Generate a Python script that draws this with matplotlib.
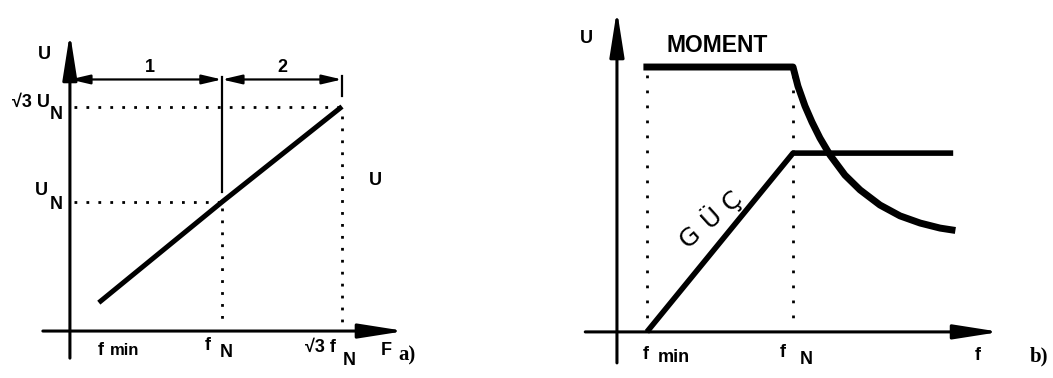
import matplotlib.pyplot as plt

# panel a) - voltage against frequency (f in units of f_N, U in units of U_N)
fa_min, fa_N, fa_max = 0.19, 1.0, 1.79
ua_N, ua_max = 1.0, 1.74
volt_f = [0.19, 1.0, 1.79]
volt_u = [0.22, 1.0, 1.74]
bracket_u = 1.95

# panel b) - torque (MOMENT) and power (GÜÇ) against frequency
fb_min, fb_N = 0.17, 1.0
moment_f = [0.17, 1.0, 1.028, 1.068, 1.108, 1.153, 1.210, 1.295, 1.381,
            1.494, 1.608, 1.722, 1.835, 1.903]
moment_m = [1.0, 1.0, 0.928, 0.853, 0.792, 0.732, 0.668, 0.592, 0.536,
            0.479, 0.438, 0.411, 0.392, 0.385]
power_f = [0.17, 1.0, 1.91]
power_p = [0.0, 0.675, 0.675]

SANS = ['Liberation Sans', 'DejaVu Sans']
SERIF = ['Liberation Serif', 'DejaVu Serif']

fig = plt.figure(figsize=(10.53, 3.78), dpi=100)
ax_a = fig.add_axes([0, 0, 527 / 1053, 1])
ax_b = fig.add_axes([527 / 1053, 0, 526 / 1053, 1])
ax_a.set_xlim(-0.46, 3.007)
ax_a.set_ylim(-0.364, 2.566)
ax_b.set_xlim(-0.511, 2.477)
ax_b.set_ylim(-0.174, 1.253)
for ax in (ax_a, ax_b):
    ax.axis('off')


def axis_arrow(ax, start, tip, lw=2.2):
    ax.annotate('', xy=tip, xytext=start,
                arrowprops=dict(arrowstyle='-|>,head_length=1.4,head_width=0.22',
                                lw=lw, color='black', shrinkA=0, shrinkB=0,
                                mutation_scale=20))


def label(ax, x, y, s, size=13, ha='center', va='center', **kw):
    ax.text(x, y, s, fontsize=size, fontweight='bold', family=SANS,
            ha=ha, va=va, **kw)


# ---- panel a ----
axis_arrow(ax_a, (-0.178, 0), (2.204, 0))
axis_arrow(ax_a, (0, -0.21), (0, 2.31))

ax_a.plot(volt_f, volt_u, color='black', lw=3.6, solid_capstyle='butt')

dots_a = (0, (1, 3.3))
ax_a.plot([0.03, fa_max], [ua_max, ua_max], color='black', lw=2, ls=dots_a)
ax_a.plot([0.03, fa_N], [ua_N, ua_N], color='black', lw=2, ls=dots_a)
ax_a.plot([fa_N, fa_N], [ua_N - 0.05, 0.05], color='black', lw=2, ls=dots_a)
ax_a.plot([fa_max, fa_max], [ua_max - 0.07, 0.07], color='black', lw=2, ls=dots_a)

# ranges 1 and 2 above the characteristic
for x0, x1 in ((0, fa_N), (fa_N, fa_max)):
    ax_a.annotate('', xy=(x1, bracket_u), xytext=(x0, bracket_u),
                  arrowprops=dict(arrowstyle='<|-|>,head_length=0.6,head_width=0.14',
                                  lw=1.6, color='black', shrinkA=0, shrinkB=0,
                                  mutation_scale=20))
ax_a.plot([fa_N, fa_N], [bracket_u + 0.02, 1.08], color='black', lw=1.6)
ax_a.plot([fa_max, fa_max], [1.98, 1.82], color='black', lw=1.6)

label(ax_a, 0.526, 2.04, '1')
label(ax_a, 1.40, 2.04, '2')
label(ax_a, -0.17, 2.14, 'U')
label(ax_a, -0.13, 1.775, '√3 U', ha='right')
label(ax_a, -0.092, 1.68, 'N')
label(ax_a, -0.19, 1.09, 'U')
label(ax_a, -0.092, 0.98, 'N')
label(ax_a, fa_min + 0.01, -0.186, 'f', va='baseline')
label(ax_a, fa_min + 0.07, -0.186, 'min', size=12, ha='left', va='baseline')
label(ax_a, fa_N - 0.09, -0.11, 'f')
label(ax_a, fa_N + 0.03, -0.165, 'N')
label(ax_a, fa_max - 0.14, -0.13, '√3 f')
label(ax_a, fa_max + 0.045, -0.225, 'N')
label(ax_a, 2.08, -0.147, 'F')
label(ax_a, 2.01, 1.17, 'U')
ax_a.text(2.22, -0.186, 'a)', fontsize=15, fontweight='bold', family=SERIF,
          ha='center', va='center')

# ---- panel b ----
axis_arrow(ax_b, (-0.18, 0), (2.176, 0))
axis_arrow(ax_b, (0, -0.117), (0, 1.215))

dots_b = (0, (1, 4.4))
ax_b.plot([fb_min, fb_min], [0.97, 0.03], color='black', lw=2, ls=dots_b)
ax_b.plot([fb_N, fb_N], [0.97, 0.03], color='black', lw=2, ls=dots_b)

ax_b.plot(moment_f, moment_m, color='black', lw=5, solid_joinstyle='round')
ax_b.plot(power_f, power_p, color='black', lw=4, solid_capstyle='butt')

label(ax_b, -0.176, 1.106, 'U')
label(ax_b, 0.568, 1.083, 'MOMENT', size=16.5)

# power label beside the rising part, letters set one by one
for (x, y), ch in zip([(0.415, 0.357), (0.54, 0.432), (0.655, 0.495)], 'GÜÇ'):
    ax_b.text(x, y, ch, fontsize=18, family=['DejaVu Sans'], rotation=42,
              ha='center', va='center')

label(ax_b, fb_min - 0.005, -0.087, 'f')
label(ax_b, fb_min + 0.155, -0.098, 'min')
label(ax_b, fb_N - 0.057, -0.079, 'f')
label(ax_b, fb_N + 0.074, -0.106, 'N')
label(ax_b, 2.05, -0.09, 'f')
ax_b.text(2.40, -0.094, 'b)', fontsize=15, fontweight='bold', family=SERIF,
          ha='center', va='center')

fig.savefig('out.png', dpi=100)
